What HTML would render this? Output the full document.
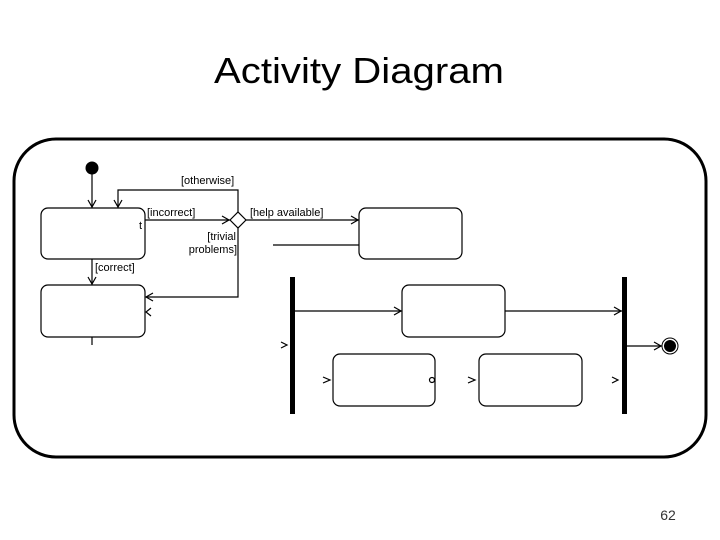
<!DOCTYPE html>
<html><head><style>html,body{margin:0;padding:0;background:#fff;width:720px;height:540px;overflow:hidden}</style></head>
<body>
<svg width="720" height="540" viewBox="0 0 720 540" xmlns="http://www.w3.org/2000/svg" font-family="Liberation Sans, sans-serif">
<rect width="720" height="540" fill="#fff"/>
<text x="359" y="83" text-anchor="middle" font-size="36" textLength="290" lengthAdjust="spacingAndGlyphs" fill="#000">Activity Diagram</text>
<rect x="14" y="139" width="692" height="318" rx="42" fill="none" stroke="#000" stroke-width="3"/>
<g fill="none" stroke="#000" stroke-width="1.2">
<rect x="41" y="208" width="104" height="51" rx="7"/>
<rect x="41" y="285" width="104" height="52" rx="7"/>
<rect x="359" y="208" width="103" height="51" rx="7"/>
<rect x="402" y="285" width="103" height="52" rx="7"/>
<rect x="333" y="354" width="102" height="52" rx="7"/>
<rect x="479" y="354" width="103" height="52" rx="7"/>
<path d="M92 168V208M92 259V285M92 337V345"/>
<path d="M238 212V190H118V208"/>
<path d="M145 220H230M246 220H359M273 245H359"/>
<path d="M238 228V297H146"/>
<path d="M294 311H402M505 311H622M626 346H662"/>
<path d="M230 220L238 212L246 220L238 228Z"/>
<path d="M88 200L92 207L96 200M114 200L118 207L122 200M88 277L92 284L96 277"/>
<path d="M222 216L229 220L222 224M351 216L358 220L351 224M153 293L146 297L153 301"/>
<path d="M394 307L401 311L394 315M614 307L621 311L614 315M654 342L661 346L654 350"/>
<path d="M151 308L146 312L151 316M281 342L287 345L281 348M323 377L330 380L323 383M468 377L475 380L468 383M612 377L618 380L612 383"/>
<circle cx="432" cy="380" r="2.5"/>
</g>
<circle cx="92" cy="168" r="6.5" fill="#000"/>
<circle cx="670" cy="346" r="8" fill="none" stroke="#000" stroke-width="1"/>
<circle cx="670" cy="346" r="6" fill="#000"/>
<rect x="290" y="277" width="5" height="137" fill="#000"/>
<rect x="622" y="277" width="5" height="137" fill="#000"/>
<g font-size="11" fill="#000">
<text x="181" y="184">[otherwise]</text>
<text x="147" y="216">[incorrect]</text>
<text x="139" y="229">t</text>
<text x="250" y="216">[help available]</text>
<text x="236" y="240" text-anchor="end">[trivial</text>
<text x="237" y="253" text-anchor="end">problems]</text>
<text x="95" y="271">[correct]</text>
</g>
<text x="668" y="520" font-size="14" text-anchor="middle" fill="#333">62</text>
</svg>
</body></html>
